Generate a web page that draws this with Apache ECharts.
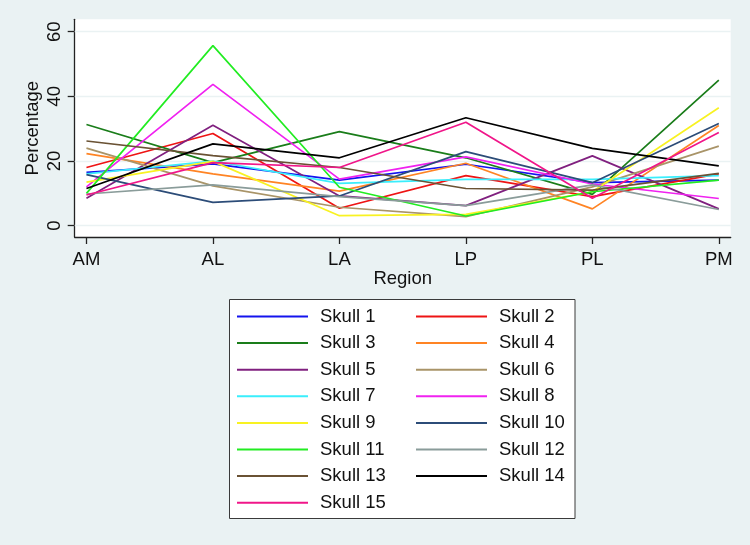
<!DOCTYPE html>
<html>
<head>
<meta charset="utf-8">
<script src="https://cdn.jsdelivr.net/npm/echarts@6/dist/echarts.min.js"></script>
<style>
  html, body { margin: 0; padding: 0; background: #eaf2f3; }
  #chart { width: 750px; height: 545px; }
</style>
</head>
<body>
<div id="chart"></div>
<script>
// regions along the x axis
var regions = ['AM', 'AL', 'LA', 'LP', 'PL', 'PM'];
var yTicks = [0, 20, 40, 60];

// percentage per region, one array per skull
var skull1 = [16.5, 19.1, 14.1, 19.0, 13.3, 14.1];
var skull2 = [18.0, 28.5, 5.4, 15.5, 9.0, 16.0];
var skull3 = [31.3, 19.5, 29.1, 21.0, 9.7, 45.0];
var skull4 = [22.3, 16.0, 10.7, 19.3, 5.2, 31.0];
var skull5 = [8.5, 31.1, 9.2, 6.2, 21.6, 5.2];
var skull6 = [24.0, 12.3, 5.7, 2.8, 12.0, 24.6];
var skull7 = [16.0, 20.0, 13.1, 14.3, 14.3, 15.5];
var skull8 = [12.0, 43.7, 14.4, 21.3, 12.9, 8.4];
var skull9 = [13.5, 19.9, 3.1, 3.5, 10.5, 36.5];
var skull10 = [15.8, 7.2, 9.2, 22.9, 13.3, 31.6];
var skull11 = [10.0, 55.7, 11.9, 3.0, 10.5, 14.1];
var skull12 = [9.8, 12.6, 9.0, 6.2, 12.6, 5.0];
var skull13 = [26.2, 21.7, 18.0, 11.5, 11.0, 16.2];
var skull14 = [11.5, 25.3, 21.0, 33.4, 23.9, 18.5];
var skull15 = [9.5, 19.5, 18.0, 32.0, 8.5, 28.8];

var skulls = [skull1, skull2, skull3, skull4, skull5, skull6, skull7, skull8,
  skull9, skull10, skull11, skull12, skull13, skull14, skull15];
var names = skulls.map(function (s, i) { return 'Skull ' + (i + 1); });

var colors = ['#1414ee', '#ee1414', '#1a7d1a', '#ff8424', '#80207f', '#a99468',
  '#3aeefc', '#f022f0', '#f8f222', '#2c4c78', '#22ec22', '#8a9c9a',
  '#6a5234', '#000000', '#f01689'];

var font = 'Liberation Sans, Arial, sans-serif';
var chart = echarts.init(document.getElementById('chart'));

var series = skulls.map(function (s, i) {
  return {
    name: names[i],
    type: 'line',
    symbol: 'none',
    z: 3,
    color: colors[i],
    lineStyle: { width: 1.7, color: colors[i] },
    data: s.map(function (v, j) { return [j, v]; })
  };
});

var legendBase = {
  orient: 'vertical',
  icon: 'rect',
  itemWidth: 71,
  itemHeight: 2,
  itemGap: 6.6,
  top: 306.5,
  padding: 0,
  selectedMode: false,
  textStyle: { fontFamily: font, fontSize: 18.5, color: '#111', lineHeight: 20, padding: [0, 0, 0, 7] }
};

chart.setOption({
  animation: false,
  backgroundColor: '#eaf2f3',
  color: colors,
  grid: {
    left: 74.7, right: 19.3, top: 19.3, bottom: 308,
    show: true, backgroundColor: '#ffffff', borderWidth: 0
  },
  graphic: [{
    type: 'rect',
    z: 0,
    shape: { x: 229.5, y: 299.5, width: 345.5, height: 219 },
    style: { fill: '#ffffff', stroke: '#3a3a3a', lineWidth: 1 }
  }],
  legend: [
    Object.assign({ left: 237, data: names.filter(function (n, i) { return i % 2 === 0; }) }, legendBase),
    Object.assign({ left: 416, data: names.filter(function (n, i) { return i % 2 === 1; }) }, legendBase)
  ],
  xAxis: {
    type: 'value',
    min: -0.093,
    max: 5.094,
    name: 'Region',
    nameLocation: 'middle',
    nameGap: 32,
    nameMoveOverlap: false,
    nameTextStyle: { fontFamily: font, fontSize: 18.5, color: '#111' },
    axisLine: { show: true, onZero: false, lineStyle: { color: '#222', width: 1.3 } },
    axisTick: { show: true, length: 7, customValues: [0, 1, 2, 3, 4, 5], lineStyle: { color: '#222', width: 1.3 } },
    axisLabel: {
      customValues: [0, 1, 2, 3, 4, 5],
      margin: 13,
      fontFamily: font, fontSize: 18.5, color: '#111',
      formatter: function (v) { return regions[Math.round(v)]; }
    },
    splitLine: { show: false }
  },
  yAxis: {
    type: 'value',
    min: -3.5,
    max: 63.84,
    name: 'Percentage',
    nameLocation: 'middle',
    nameRotate: 90,
    nameGap: 32,
    nameMoveOverlap: false,
    nameTextStyle: { fontFamily: font, fontSize: 18.5, color: '#111' },
    axisLine: { show: true, onZero: false, lineStyle: { color: '#222', width: 1.3 } },
    axisTick: { show: true, length: 7, customValues: yTicks, lineStyle: { color: '#222', width: 1.3 } },
    axisLabel: {
      customValues: yTicks,
      rotate: 90,
      margin: 10,
      fontFamily: font, fontSize: 18.5, color: '#111'
    },
    splitLine: { show: false }
  },
  series: series.concat([{
    type: 'line',
    data: [],
    silent: true,
    z: 1,
    markLine: {
      z: 1,
      symbol: 'none',
      silent: true,
      label: { show: false },
      lineStyle: { color: '#eaf2f3', width: 1.3, type: 'solid' },
      data: yTicks.map(function (t) { return { yAxis: t }; })
    }
  }])
});
</script>
</body>
</html>
